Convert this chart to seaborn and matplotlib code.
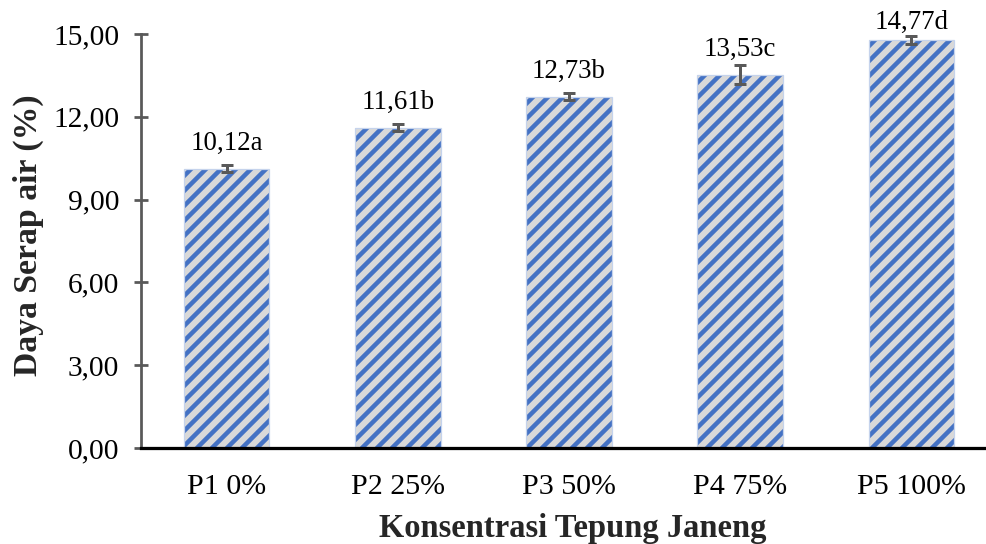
import matplotlib
matplotlib.use("Agg")
import matplotlib.pyplot as plt
import seaborn as sns
import pandas as pd

# Water absorption by jackfruit-seed flour concentration
categories = ["P1 0%", "P2 25%", "P3 50%", "P4 75%", "P5 100%"]
values = [10.12, 11.61, 12.73, 13.53, 14.77]
errors = [0.12, 0.12, 0.12, 0.33, 0.15]
letters = ["a", "b", "b", "c", "d"]
y_ticks = [0, 3, 6, 9, 12, 15]

df = pd.DataFrame({"kategori": categories, "nilai": values})

sns.set_theme(style="white")
plt.rcParams["font.family"] = ["Liberation Serif", "DejaVu Serif"]
plt.rcParams["hatch.linewidth"] = 3.6

DPI = 90
fig = plt.figure(figsize=(986 / DPI, 544 / DPI), dpi=DPI)
ax = fig.add_axes([141 / 986, 1 - 448 / 544, (997 - 141) / 986, (448 - 34) / 544])

sns.barplot(data=df, x="kategori", y="nilai", ax=ax, width=0.5,
            color="#d9d9d9", errorbar=None, saturation=1)

blue = "#4472c4"
for patch in ax.patches:
    patch.set_facecolor("#d9d9d9")
    patch.set_edgecolor(blue)
    patch.set_hatch("//")
    patch.set_linewidth(0)
    # thin light-blue outline on top of the hatched bar
    outline = plt.Rectangle(patch.get_xy(), patch.get_width(), patch.get_height(),
                            fill=False, edgecolor="#c5d3ec", linewidth=1.0, zorder=patch.get_zorder() + 0.1)
    ax.add_patch(outline)

ax.errorbar(range(len(values)), values, yerr=errors, fmt="none",
            ecolor="#595959", elinewidth=2.4, capsize=4.8, capthick=2.4, zorder=5)

ax.set_xlim(-0.5, len(categories) - 0.5)
ax.set_ylim(0, 15)
ax.set_yticks(y_ticks)
ax.set_yticklabels([f"{t:.2f}".replace(".", ",") for t in y_ticks])

# value labels with significance letters, kept inside the figure at the top
fig.canvas.draw()
top_px = fig.bbox.height - 22 * (fig.bbox.height / 544)
for i, (v, l) in enumerate(zip(values, letters)):
    x_disp, y_disp = ax.transData.transform((i, v))
    y_lab = min(y_disp + 25, top_px)
    xl, yl = ax.transData.inverted().transform((x_disp, y_lab))
    ax.text(xl, yl, f"{v:.2f}".replace(".", ",") + l, ha="center", va="center",
            fontsize=21.5, color="black", zorder=6)

for side in ["top", "right"]:
    ax.spines[side].set_visible(False)
ax.spines["left"].set_color("#595959")
ax.spines["left"].set_linewidth(2.2)
ax.spines["bottom"].set_color("black")
ax.spines["bottom"].set_linewidth(2.6)
ax.spines["left"].set_zorder(1)

ax.tick_params(axis="y", direction="inout", length=11, width=2.2, color="#595959",
               labelsize=23.5, labelcolor="black", pad=12, left=True)
ax.tick_params(axis="x", length=0, labelsize=24, labelcolor="black", pad=21)

ax.set_xlabel("Konsentrasi Tepung Janeng", fontsize=26, fontweight="bold", labelpad=12)
ax.set_ylabel("Daya Serap air (%)", fontsize=27, fontweight="bold", labelpad=12)
ax.xaxis.set_label_coords((573 - 141) / (997 - 141), -(528 - 448) / (448 - 34))
ax.yaxis.set_label_coords(-(141 - 28) / (997 - 141), (448 - 235) / (448 - 34))
ax.xaxis.label.set_va("center")
ax.yaxis.label.set_va("center")

fig.savefig("out.png", dpi=DPI, facecolor="white")
